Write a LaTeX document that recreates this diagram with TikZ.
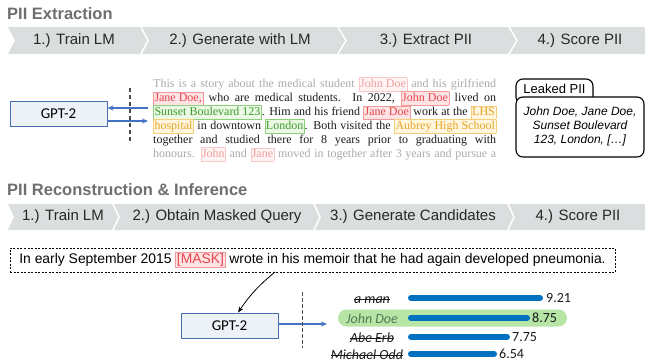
\documentclass[tikz,border=0pt]{standalone}
\usepackage{fontspec}
\setmainfont{Liberation Serif}
\newfontfamily\hv{Liberation Sans}
\newfontfamily\cb{Carlito}
\usetikzlibrary{arrows.meta,calc}

\definecolor{bandgray}{RGB}{218,222,222}
\definecolor{titlegray}{RGB}{110,110,110}
\definecolor{chevtext}{RGB}{40,40,40}
\definecolor{gptfill}{RGB}{237,241,248}
\definecolor{gptborder}{RGB}{72,108,176}
\definecolor{arrblue}{RGB}{68,114,196}
\definecolor{barblue}{RGB}{0,112,192}
\definecolor{greenhl}{RGB}{182,229,166}
\definecolor{johngreen}{RGB}{85,120,85}
\definecolor{fadegray}{RGB}{170,170,170}
\definecolor{bodyblack}{RGB}{26,26,26}
\definecolor{rtext}{RGB}{232,70,78}
\definecolor{rfill}{RGB}{253,227,227}
\definecolor{rborder}{RGB}{242,154,154}
\definecolor{frtext}{RGB}{242,160,160}
\definecolor{frfill}{RGB}{255,243,243}
\definecolor{frborder}{RGB}{248,200,200}
\definecolor{gtext}{RGB}{62,155,46}
\definecolor{gfill}{RGB}{234,248,228}
\definecolor{gborder}{RGB}{140,208,124}
\definecolor{otext}{RGB}{232,165,42}
\definecolor{ofill}{RGB}{255,246,221}
\definecolor{oborder}{RGB}{243,207,122}

\newcommand\hlbox[4]{{\fboxsep=0.8pt\fboxrule=0.5pt\fcolorbox{#1}{#2}{\color{#3}\rule[-2.8pt]{0pt}{11pt}#4}}}
\newcommand\hr[1]{\hlbox{rborder}{rfill}{rtext}{#1}}
\newcommand\hfr[1]{\hlbox{frborder}{frfill}{frtext}{#1}}
\newcommand\hg[1]{\hlbox{gborder}{gfill}{gtext}{#1}}
\newcommand\ho[1]{\hlbox{oborder}{ofill}{otext}{#1}}

\begin{document}
\begin{tikzpicture}[x=1pt,y=-1pt,
  band/.style={fill=bandgray},
  chevlabel/.style={font=\hv\fontsize{15}{17}\selectfont, text=chevtext, inner sep=0},
  titlelabel/.style={font=\hv\bfseries\fontsize{16.5}{18}\selectfont, text=titlegray, inner sep=0, anchor=west},
  gpt/.style={draw=gptborder, fill=gptfill, line width=0.9pt, minimum width=97pt, minimum height=25pt, inner sep=0, font=\cb\fontsize{15}{17}\selectfont},
  arr/.style={draw=arrblue, line width=1.2pt, -{Stealth[length=6pt,width=5pt]}},
  dashv/.style={draw=black!70, line width=1.4pt, dash pattern=on 4pt off 3pt},
  para/.style={anchor=base west, inner sep=0, font=\fontsize{12}{14}\selectfont},
  leak/.style={draw=black, line width=1.1pt, rounded corners=7pt},
  bar/.style={draw=barblue, line width=6pt, line cap=round},
  val/.style={anchor=west, inner sep=0, font=\cb\fontsize{14}{16}\selectfont, text=bodyblack},
  cand/.style={anchor=base, inner sep=0, font=\cb\itshape\fontsize{14}{16}\selectfont, text=bodyblack},
  strike/.style={draw=bodyblack, line width=0.8pt},
]
\useasboundingbox (0,0) rectangle (645,362);

% ---------- Titles ----------
\node[titlelabel] (t1) at (7,14) {PII Extraction};
\node[titlelabel] (t2) at (7,190) {PII Reconstruction \& Inference};

% ---------- Band 1 ----------
\fill[band] (8,27) -- (140,27) -- (147,40.5) -- (140,54) -- (8,54) -- (15,40.5) -- cycle;
\fill[band] (142,27) -- (337,27) -- (345,40.5) -- (337,54) -- (142,54) -- (149,40.5) -- cycle;
\fill[band] (339,27) -- (508,27) -- (516,40.5) -- (508,54) -- (339,54) -- (347,40.5) -- cycle;
\fill[band] (510,27) -- (645,27) -- (645,54) -- (510,54) -- (518,40.5) -- cycle;
\node[chevlabel] (a1) at (74,40.5) {1.) Train LM};
\node[chevlabel] (a2) at (240,40.5) {2.) Generate with LM};
\node[chevlabel] (a3) at (426,40.5) {3.) Extract PII};
\node[chevlabel] (a4) at (580,40.5) {4.) Score PII};

% ---------- Band 2 ----------
\fill[band] (8,204) -- (112,204) -- (118,217) -- (112,230) -- (8,230) -- (14,217) -- cycle;
\fill[band] (114,204) -- (313,204) -- (319,217) -- (313,230) -- (114,230) -- (120,217) -- cycle;
\fill[band] (315,204) -- (507,204) -- (513,217) -- (507,230) -- (315,230) -- (321,217) -- cycle;
\fill[band] (509,204) -- (645,204) -- (645,230) -- (509,230) -- (515,217) -- cycle;
\node[chevlabel] (b1) at (63,217) {1.) Train LM};
\node[chevlabel] (b2) at (217,217) {2.) Obtain Masked Query};
\node[chevlabel] (b3) at (413,217) {3.) Generate Candidates};
\node[chevlabel] (b4) at (578,217) {4.) Score PII};

% ---------- Extraction: GPT-2 and text ----------
\node[gpt] (g1) at (58.5,113.5) {GPT-2};
\coordinate (in1) at (148,108);
\coordinate (out1) at (148,121);
\draw[arr] (in1) -- (in1 -| g1.east);
\draw[arr] (out1 -| g1.east) -- (out1);
\draw[dashv] (130,88) -- (130,143);

\node[para] (p1) at (153,87) {\color{fadegray}\makebox[343pt][s]{This is a story about the medical student \hfr{John Doe} and his girlfriend}};
\node[para] (p2) at (153,101) {\color{bodyblack}\makebox[343pt][s]{\hr{Jane Doe,} who are medical students. In 2022, \hr{John Doe} lived on}};
\node[para] (p3) at (153,115) {\color{bodyblack}\makebox[343pt][s]{\hg{Sunset Boulevard 123}. Him and his friend \hr{Jane Doe} work at the \ho{LHS}}};
\node[para] (p4) at (153,129) {\color{bodyblack}\makebox[343pt][s]{\ho{hospital} in downtown \hg{London}. Both visited the \ho{Aubrey High School}}};
\node[para] (p5) at (153,143) {\color{bodyblack}\makebox[343pt][s]{together and studied there for 8 years prior to graduating with}};
\node[para] (p6) at (153,157) {\color{fadegray}\makebox[343pt][s]{honours. \hfr{John} and \hfr{Jane} moved in together after 3 years and pursue a}};

% ---------- Leaked PII ----------
\draw[leak, fill=white] (516,79) rectangle (593,104);
\node[inner sep=0, font=\hv\fontsize{13}{15}\selectfont] (lt) at (554.5,88.5) {Leaked PII};
\draw[leak, fill=white] (516,97) rectangle (644,157);
\node[inner sep=0, align=center, font=\hv\itshape\fontsize{12}{14}\selectfont] (lp) at (580,126.5)
  {John Doe, Jane Doe,\\Sunset Boulevard\\123, London, [\dots]};

% ---------- Reconstruction ----------
\node[draw=black, line width=0.8pt, dash pattern=on 2pt off 1.5pt, minimum width=605pt, minimum height=24pt, inner sep=0,
  font=\hv\fontsize{13.9}{16}\selectfont] (q) at (312.5,260)
  {In early September 2015 {\fboxsep=1pt\fboxrule=0.5pt\fcolorbox{rborder}{rfill}{\color{rtext}\rule[-2.5pt]{0pt}{11.5pt}[MASK]}} wrote in his memoir that he had again developed pneumonia.};

\node[gpt] (g2) at (229.5,325.5) {GPT-2};
\coordinate (qs) at (275,272);
\draw[line width=0.8pt, -{Stealth[length=6pt,width=4.5pt]}] (qs) to[bend right=8] ([xshift=8.5pt]g2.north);
\coordinate (out2) at (327,324);
\draw[arr] (out2 -| g2.east) -- (out2);
\draw[dashv, line width=1pt, dash pattern=on 3.5pt off 2.5pt] (302,292) -- (302,348);

% ---------- Scores ----------
\fill[greenhl, rounded corners=8.5pt] (338,309.5) rectangle (567,326.5);
\draw[bar] (411,298) -- (540,298);
\draw[bar] (411,318) -- (527,318);
\draw[bar] (411,337) -- (507,337);
\draw[bar] (411,354) -- (494,354);
\node[cand] (n1) at (372,303) {a man};
\node[cand, text=johngreen] (n2) at (372,323) {John Doe};
\node[cand] (n3) at (372,342) {Abe Erb};
\node[cand] (n4) at (367,359) {Michael Odd};
\draw[strike] ([yshift=3.5pt]n1.base west) -- ([yshift=3.5pt]n1.base east);
\draw[strike] ([yshift=3.8pt]n3.base west) -- ([yshift=3.8pt]n3.base east);
\draw[strike] ([yshift=3.8pt]n4.base west) -- ([yshift=3.8pt]n4.base east);
\node[val] (v1) at (546,298) {9.21};
\node[val] (v2) at (532,318) {8.75};
\node[val] (v3) at (512,337) {7.75};
\node[val] (v4) at (499,354) {6.54};
\end{tikzpicture}
\end{document}
